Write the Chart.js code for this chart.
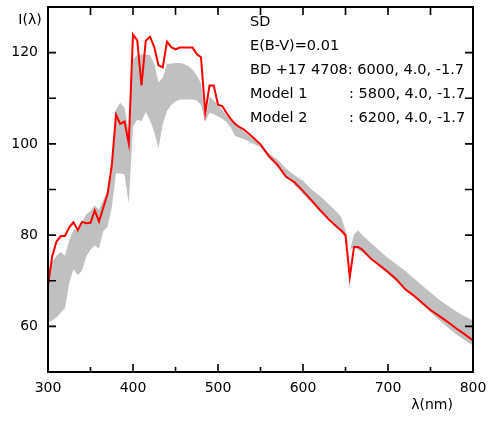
<!DOCTYPE html>
<html>
<head>
<meta charset="utf-8">
<script src="https://cdn.jsdelivr.net/npm/chart.js@4"></script>
<style>
  html, body { margin: 0; padding: 0; background: #fff; }
  #wrap { width: 491px; height: 421px; }
</style>
</head>
<body>
<div id="wrap"><canvas id="spec"></canvas></div>
<script>
// wavelength grid (nm)
const wavelengths = [
  300, 305, 310, 315, 320, 325, 330, 335, 340, 345,
  350, 355, 360, 365, 370, 375, 380, 385, 390, 395,
  400, 405, 410, 415, 420, 425, 430, 435, 440, 445,
  450, 455, 460, 465, 470, 475, 480, 485, 490, 495,
  500, 505, 510, 515, 520, 525, 530, 540, 550, 560,
  570, 580, 590, 600, 610, 620, 630, 640, 645, 650,
  655, 660, 665, 670, 680, 690, 700, 710, 720, 730,
  740, 750, 760, 770, 780, 790, 800
];

// observed SD of BD +17 4708 (red line)
const sdFlux = [
  69.0, 75.4, 78.6, 79.8, 79.8, 81.7, 82.8, 81.1, 82.9, 82.6,
  82.7, 85.4, 83.0, 86.0, 89.0, 95.2, 106.4, 104.4, 104.9, 100.1,
  124.0, 122.7, 112.8, 122.6, 123.5, 121.2, 117.2, 116.8, 122.4, 121.2,
  120.7, 121.1, 121.1, 121.1, 121.1, 119.7, 119.0, 106.8, 112.8, 112.8,
  108.6, 108.3, 106.8, 105.5, 104.4, 103.7, 103.2, 101.6, 99.9, 97.3,
  95.4, 92.8, 91.6, 89.7, 87.6, 85.5, 83.5, 81.8, 81.0, 80.0,
  70.8, 77.4, 77.4, 76.8, 74.8, 73.4, 71.9, 70.3, 68.2, 66.8,
  65.2, 63.6, 62.3, 61.0, 59.6, 58.3, 56.9
];

// model band, upper and lower edge (grey)
const bandUpper = [
  72.5, 74.1, 75.5, 76.3, 75.5, 78.8, 81.1, 81.3, 82.9, 84.6,
  85.3, 86.5, 85.6, 87.7, 89.6, 96.0, 107.5, 109.0, 108.0, 103.0,
  118.5, 119.6, 119.6, 119.6, 119.5, 117.5, 113.5, 114.5, 117.5, 117.6,
  117.7, 117.7, 117.5, 117.0, 116.3, 115.0, 113.3, 105.5, 110.4, 109.5,
  108.5, 107.5, 106.2, 105.3, 104.6, 103.6, 102.7, 101.3, 99.9, 97.9,
  96.6, 94.6, 93.1, 91.9, 90.0, 88.6, 86.8, 85.0, 84.0, 81.0,
  76.5, 80.2, 81.0, 80.0, 78.3, 76.6, 75.0, 73.6, 72.2, 70.6,
  69.0, 67.4, 65.9, 64.6, 63.3, 62.2, 61.3
];
const bandLower = [
  60.9, 61.3, 62.0, 63.0, 64.0, 69.5, 72.5, 71.2, 72.2, 75.3,
  76.8, 77.7, 77.0, 80.9, 81.8, 86.0, 93.5, 93.5, 93.3, 87.0,
  103.8, 105.3, 105.0, 107.0, 105.2, 102.6, 99.0, 104.3, 107.2, 108.5,
  109.3, 109.7, 109.7, 109.7, 109.7, 109.5, 108.6, 104.9, 106.8, 106.5,
  106.0, 105.5, 104.8, 103.6, 101.7, 101.4, 101.1, 100.2, 99.3, 96.8,
  94.9, 92.8, 91.0, 89.0, 87.1, 85.2, 83.4, 81.6, 80.6, 79.5,
  76.8, 77.4, 76.7, 76.2, 74.7, 73.0, 71.4, 69.8, 68.1, 66.5,
  64.9, 63.1, 61.4, 59.8, 58.3, 57.0, 55.8
];

const infoLines = [
  ["SD", ""],
  ["E(B-V)=0.01", ""],
  ["BD +17 4708: 6000, 4.0, -1.7", ""],
  ["Model 1", ": 5800, 4.0, -1.7"],
  ["Model 2", ": 6200, 4.0, -1.7"]
];

const pts = (ys) => wavelengths.map((w, i) => ({ x: w, y: ys[i] }));

Chart.defaults.font.family = "'DejaVu Sans', sans-serif";
Chart.defaults.font.size = 14;
Chart.defaults.color = "#000";

// frame, inward ticks on all four sides, and the text
const framePlugin = {
  id: "frame",
  afterDraw(chart) {
    const { ctx, chartArea: a, scales } = chart;
    ctx.save();
    ctx.strokeStyle = "#000";
    ctx.lineWidth = 1.6;
    ctx.beginPath();
    scales.x.ticks.forEach((t) => {
      const px = scales.x.getPixelForValue(t.value);
      const major = t.value % 100 === 0;
      ctx.moveTo(px, a.bottom);
      ctx.lineTo(px, a.bottom - (major ? 8 : 5));
      ctx.moveTo(px, a.top);
      ctx.lineTo(px, a.top + 8);
    });
    scales.y.ticks.forEach((t) => {
      const py = scales.y.getPixelForValue(t.value);
      ctx.moveTo(a.left, py);
      ctx.lineTo(a.left + 8, py);
      ctx.moveTo(a.right, py);
      ctx.lineTo(a.right - 8, py);
    });
    ctx.stroke();
    ctx.lineWidth = 2;
    ctx.strokeRect(a.left, a.top, a.right - a.left, a.bottom - a.top);

    ctx.fillStyle = "#000";
    ctx.textBaseline = "middle";
    ctx.font = "14px 'DejaVu Sans'";
    ctx.textAlign = "center";
    ctx.fillText("I(\u03bb)", 30, 20);
    ctx.fillText("\u03bb(nm)", 432, 405);

    ctx.font = "14.5px 'DejaVu Sans'";
    ctx.textAlign = "left";
    infoLines.forEach((ln, i) => {
      const y = 22.7 + i * 24;
      ctx.fillText(ln[0], 250, y);
      if (ln[1]) ctx.fillText(ln[1], 349, y);
    });
    ctx.restore();
  }
};

new Chart(document.getElementById("spec"), {
  type: "line",
  data: {
    datasets: [
      {
        label: "SD",
        data: pts(sdFlux),
        borderColor: "#ff0000",
        borderWidth: 2,
        pointRadius: 0,
        fill: false,
      },
      {
        label: "Model upper",
        data: pts(bandUpper),
        borderWidth: 0,
        borderColor: "rgba(0,0,0,0)",
        backgroundColor: "#c0c0c0",
        pointRadius: 0,
        fill: "+1",
      },
      {
        label: "Model lower",
        data: pts(bandLower),
        borderWidth: 0,
        borderColor: "rgba(0,0,0,0)",
        pointRadius: 0,
        fill: false,
      },
    ],
  },
  options: {
    responsive: true,
    maintainAspectRatio: false,
    animation: false,
    layout: { padding: { left: 11, right: 18, top: 7, bottom: 22 } },
    scales: {
      x: {
        type: "linear",
        min: 300,
        max: 800,
        grid: { display: false, drawTicks: false },
        border: { display: false },
        ticks: {
          stepSize: 50,
          padding: 8,
          maxRotation: 0,
          autoSkip: false,
          callback: (v) => (v % 100 === 0 ? v : ""),
        },
        afterFit(s) {
          s.height = 27;
          s.paddingLeft = 0;
          s.paddingRight = 0;
        },
      },
      y: {
        min: 50,
        max: 130,
        grid: { display: false, drawTicks: false },
        border: { display: false },
        ticks: {
          stepSize: 10,
          padding: 10,
          autoSkip: false,
          callback: (v) => (v % 20 === 0 ? v : ""),
        },
        afterFit(s) {
          s.width = 37;
          s.paddingTop = 0;
          s.paddingBottom = 0;
        },
      },
    },
    plugins: {
      legend: { display: false },
      tooltip: { enabled: false },
    },
  },
  plugins: [framePlugin],
});
</script>
</body>
</html>
